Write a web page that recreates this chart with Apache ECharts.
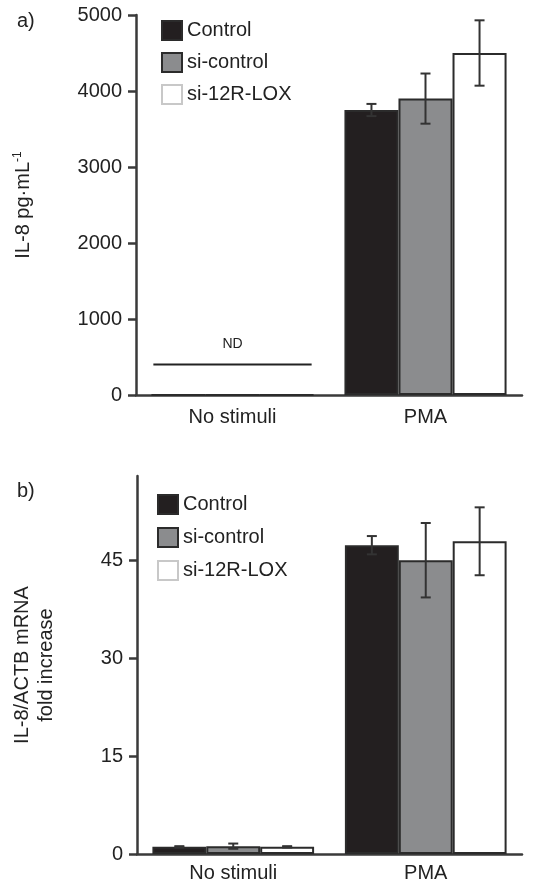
<!DOCTYPE html>
<html>
<head>
<meta charset="utf-8">
<script src="https://cdn.jsdelivr.net/npm/echarts@6/dist/echarts.min.js"></script>
<style>
  html, body { margin: 0; padding: 0; background: #fff; }
</style>
</head>
<body>
<div id="chart" style="width: 544px; height: 883px"></div>
<script>
// data
const categories = ["No stimuli", "PMA"];
const seriesNames = ["Control", "si-control", "si-12R-LOX"];

// a) IL-8 protein, pg/mL (no stimuli = not detected)
const il8Control = [0, 3750];
const il8SiControl = [0, 3900];
const il8Si12R = [0, 4500];
const il8ControlErr = [0, 80];
const il8SiControlErr = [0, 330];
const il8Si12RErr = [0, 430];
const il8Ticks = [0, 1000, 2000, 3000, 4000, 5000];
const ndLevel = 400;

// b) IL-8/ACTB mRNA fold increase
const mrnaControl = [1.1, 47.3];
const mrnaSiControl = [1.2, 45.0];
const mrnaSi12R = [1.1, 47.9];
const mrnaControlErr = [0.1, 1.4];
const mrnaSiControlErr = [0.4, 5.7];
const mrnaSi12RErr = [0.1, 5.2];
const mrnaTicks = [0, 15, 30, 45];

const fills = ["#231f20", "#8b8c8e", "#ffffff"];
const edge = "#2b2b2b";
const catGap = 0.16;
const font = "Liberation Sans";
const fs = 20;

function errData(vals, errs, s) {
  return vals.map((v, i) => [i, v, errs[i], s]);
}

function renderErr(params, api) {
  const cat = api.value(0), v = api.value(1), e = api.value(2), s = api.value(3);
  if (!e) return;
  const band = api.size([1, 0])[0];
  const barW = band * (1 - catGap) / 3;
  const cx = api.coord([cat, v])[0] + (s - 1) * barW;
  const top = api.coord([cat, v + e])[1];
  const bot = api.coord([cat, v - e])[1];
  const st = { stroke: "#333", lineWidth: 2 };
  return {
    type: "group",
    children: [
      { type: "line", shape: { x1: cx, y1: top, x2: cx, y2: bot }, style: st },
      { type: "line", shape: { x1: cx - 5, y1: top, x2: cx + 5, y2: top }, style: st },
      { type: "line", shape: { x1: cx - 5, y1: bot, x2: cx + 5, y2: bot }, style: st }
    ]
  };
}

function renderND(params, api) {
  const band = api.size([1, 0])[0];
  const p = api.coord([api.value(0), api.value(1)]);
  return {
    type: "group",
    children: [
      { type: "line", shape: { x1: p[0] - band * 0.41, y1: p[1], x2: p[0] + band * 0.41, y2: p[1] },
        style: { stroke: "#222", lineWidth: 2 } },
      { type: "text", style: { text: "ND", x: p[0], y: p[1] - 20, align: "center", verticalAlign: "middle",
        fontSize: 14, fontFamily: font, fill: "#222" } }
    ]
  };
}

function barSeries(name, data, idx, axis) {
  return {
    name: name,
    type: "bar",
    xAxisIndex: axis,
    yAxisIndex: axis,
    data: data,
    barGap: "0%",
    barCategoryGap: catGap * 100 + "%",
    itemStyle: { color: fills[idx], borderColor: edge, borderWidth: 2 }
  };
}

function errSeries(vals, errs, s, axis) {
  return {
    type: "custom",
    xAxisIndex: axis,
    yAxisIndex: axis,
    renderItem: renderErr,
    data: errData(vals, errs, s),
    encode: { x: 0, y: 1 },
    z: 5,
    silent: true
  };
}

const axisLine = { lineStyle: { color: "#3a3a3a", width: 2.5 } };
const axisTick = { length: 8, lineStyle: { color: "#3a3a3a", width: 2.5 } };
const labelStyle = { fontSize: fs, color: "#222", fontFamily: font };

function xAxis(idx, margin) {
  return {
    type: "category",
    gridIndex: idx,
    data: categories,
    axisLine: axisLine,
    axisTick: Object.assign({ alignWithLabel: false }, axisTick),
    axisLabel: Object.assign({ margin: margin }, labelStyle)
  };
}

function legendData(names) {
  return names.map((n, i) => i === 2 ? { name: n, itemStyle: { borderColor: "#c8c8c8" } } : { name: n });
}

const legendText = { fontSize: fs, color: "#222", fontFamily: font };

const option = {
  animation: false,
  textStyle: { fontFamily: font },
  title: [
    { text: "a)", left: 17, top: 11, padding: 0, textStyle: { fontSize: fs, fontWeight: "normal", color: "#222", fontFamily: font } },
    { text: "b)", left: 17, top: 481, padding: 0, textStyle: { fontSize: fs, fontWeight: "normal", color: "#222", fontFamily: font } }
  ],
  legend: [
    { data: legendData(seriesNames), orient: "vertical", left: 161, top: 20, padding: 0, itemWidth: 20, itemHeight: 19,
      itemGap: 11, icon: "rect", selectedMode: false, textStyle: legendText },
    { data: legendData(seriesNames), orient: "vertical", left: 157, top: 494, padding: 0, itemWidth: 20, itemHeight: 19,
      itemGap: 12, icon: "rect", selectedMode: false, textStyle: legendText }
  ],
  grid: [
    { left: 136, right: 22, top: 15, bottom: 488, outerBoundsMode: "none", containLabel: false },
    { left: 137, right: 22, top: 476, bottom: 29, outerBoundsMode: "none", containLabel: false }
  ],
  xAxis: [xAxis(0, 12), xAxis(1, 9)],
  yAxis: [
    {
      type: "value", gridIndex: 0, min: 0, max: 5000, interval: 1000,
      name: "{a|IL-8 pg·mL}{s|-1}", nameLocation: "middle", nameRotate: 90, nameGap: 102,
      nameTextStyle: { rich: { a: { fontSize: fs, color: "#222", fontFamily: font },
        s: { fontSize: 12, color: "#222", fontFamily: font, padding: [0, 0, 10, 0] } } },
      axisLine: Object.assign({ show: true }, axisLine),
      axisTick: Object.assign({ show: true, customValues: il8Ticks }, axisTick),
      axisLabel: Object.assign({ margin: 14, customValues: il8Ticks, formatter: v => String(v) }, labelStyle),
      splitLine: { show: false }
    },
    {
      type: "value", gridIndex: 1, min: 0, max: 57.9,
      name: "IL-8/ACTB mRNA\nfold increase", nameLocation: "middle", nameRotate: 90, nameGap: 79,
      nameTextStyle: { fontSize: fs, color: "#222", fontFamily: font, lineHeight: 24 },
      axisLine: Object.assign({ show: true }, axisLine),
      axisTick: Object.assign({ show: true, customValues: mrnaTicks }, axisTick),
      axisLabel: Object.assign({ margin: 14, customValues: mrnaTicks, formatter: v => String(v) }, labelStyle),
      splitLine: { show: false }
    }
  ],
  series: [
    barSeries(seriesNames[0], il8Control, 0, 0),
    barSeries(seriesNames[1], il8SiControl, 1, 0),
    barSeries(seriesNames[2], il8Si12R, 2, 0),
    errSeries(il8Control, il8ControlErr, 0, 0),
    errSeries(il8SiControl, il8SiControlErr, 1, 0),
    errSeries(il8Si12R, il8Si12RErr, 2, 0),
    {
      type: "custom", xAxisIndex: 0, yAxisIndex: 0, renderItem: renderND,
      data: [[0, ndLevel]], encode: { x: 0, y: 1 }, z: 5, silent: true
    },
    barSeries(seriesNames[0], mrnaControl, 0, 1),
    barSeries(seriesNames[1], mrnaSiControl, 1, 1),
    barSeries(seriesNames[2], mrnaSi12R, 2, 1),
    errSeries(mrnaControl, mrnaControlErr, 0, 1),
    errSeries(mrnaSiControl, mrnaSiControlErr, 1, 1),
    errSeries(mrnaSi12R, mrnaSi12RErr, 2, 1)
  ]
};

const myChart = echarts.init(document.getElementById("chart"));
myChart.setOption(option);
</script>
</body>
</html>
